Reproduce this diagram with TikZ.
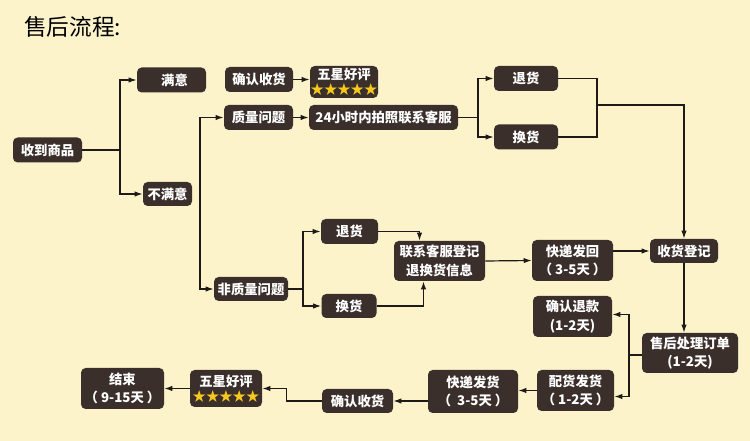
\documentclass[tikz,border=0pt]{standalone}
\usepackage{fontspec}
\newfontfamily\cjk{Noto Sans CJK SC}
\usetikzlibrary{calc,arrows.meta,positioning}
\definecolor{flowbg}{HTML}{FDF3CB}
\definecolor{flowbox}{HTML}{3B2F2C}
\definecolor{flowstar}{HTML}{F7C81E}
\definecolor{flowline}{HTML}{1E1A18}
\tikzset{
  fbox/.style={fill=flowbox, text=white, rounded corners=3.5pt, inner sep=0pt,
    align=center, font=\cjk\bfseries\fontsize{10}{14}\selectfont},
  sz/.style 2 args={minimum width=#1*0.75pt, minimum height=#2*0.75pt},
  fline/.style={draw=flowline, line width=0.9pt},
  farr/.style={fline, -{Latex[length=6pt,width=4pt]}}
}
\newcommand{\fivestars}{{\color{flowstar}★★★★★}}

\begin{document}
\begin{tikzpicture}[x=0.75pt, y=-0.75pt]
  \fill[flowbg] (0,0) rectangle (750,441);
  \useasboundingbox (0,0) rectangle (750,441);
  % title
  \node[anchor=west, inner sep=0pt, font=\cjk\fontsize{17}{20}\selectfont] (title) at (24,27) {售后流程:};
  % first column
  \node[fbox, sz={69}{25}] (rcv) at (47.5,150) {收到商品};
  \node[fbox, sz={69}{25}] (sat) at (171.5,80) {\ \ 满意};
  \node[fbox, sz={49}{24}] (unsat) at (167.5,194) {不满意};
  % quality branch
  \node[fbox, sz={68}{25}] (ok1) at (259,79.5) {确认收货};
  \node[fbox, sz={68}{32}] (star1) at (344,82) {五星好评\\[-3pt]\fivestars};
  \node[fbox, sz={69}{25}] (qual) at (258.5,117.5) {质量问题};
  \node[fbox, sz={149}{25}] (photo) at (383.5,117.5) {24小时内拍照联系客服};
  \node[fbox, sz={64}{25}] (ret1) at (526,78.5) {退货};
  \node[fbox, sz={64}{25}] (exc1) at (526,137) {换货};
  % non-quality branch
  \node[fbox, sz={74}{24}] (nonq) at (251,289) {非质量问题};
  \node[fbox, sz={57}{25}] (ret2) at (349.5,231.5) {退货};
  \node[fbox, sz={55}{24}] (exc2) at (349,306) {换货};
  \node[fbox, sz={91}{40}] (reg) at (439.5,261) {联系客服登记\\退换货信息};
  \node[fbox, sz={81}{41}] (back) at (572.5,260.5) {快递发回\\（ 3-5天 ）};
  \node[fbox, sz={68}{24}] (recv) at (684,251) {收货登记};
  \node[fbox, sz={96}{40}] (proc) at (690,353) {售后处理订单\\(1-2天)};
  \node[fbox, sz={79}{41}] (refund) at (572.5,316.5) {确认退款\\(1-2天)};
  % bottom row
  \node[fbox, sz={77}{41}] (pick) at (575.5,390.5) {配货发货\\（ 1-2天 ）};
  \node[fbox, sz={90}{43}] (ship) at (473,391.5) {快递发货\\（ \ 3-5天 ）};
  \node[fbox, sz={71}{24}] (ok2) at (357.5,401) {确认收货};
  \node[fbox, sz={72}{37}] (star2) at (226,388.5) {五星好评\\[-3pt]\fivestars};
  \node[fbox, sz={83}{41}] (fin) at (122.5,388.5) {结束\\（ 9-15天 ）};
  % branch points
  \coordinate (b0) at (120,150);
  \coordinate (b1) at (200,117.5);
  \coordinate (b2) at (478,117.5);
  \coordinate (m1) at (597,105);
  \coordinate (b3) at (303,289);
  \coordinate (b4) at (629,355);
  % connectors
  \draw[fline] (rcv.east) -- (b0);
  \draw[farr] (b0) |- (sat.west);
  \draw[farr] (b0) |- (unsat.west);
  \draw[farr] (ok1.east) -- (ok1.east -| star1.west);
  \draw[farr] (b1) -- (qual.west);
  \draw[farr] (b1) |- (nonq.west);
  \draw[farr] (qual.east) -- (photo.west);
  \draw[fline] (photo.east) -- (b2);
  \draw[farr] (b2) |- (ret1.west);
  \draw[farr] (b2) |- (exc1.west);
  \draw[fline] (ret1.east) -| (m1);
  \draw[fline] (exc1.east) -| (m1);
  \draw[farr] (m1) -| (recv.north);
  \draw[fline] (nonq.east) -- (b3);
  \draw[farr] (b3) |- (ret2.west);
  \draw[farr] (b3) |- (exc2.west);
  \draw[farr] (ret2.east) -| ($(reg.north)+(-20,0)$);
  \draw[farr] (exc2.east) -| ($(reg.south)+(-16,0)$);
  \draw[farr] (reg.east) -- (back.west);
  \draw[farr] (back.east |- recv.west) -- (recv.west);
  \draw[farr] (recv.south) -- (proc.north -| recv.south);
  \draw[fline] (proc.west |- b4) -- (b4);
  \draw[farr] (b4) |- ($(refund.east)+(0,-2)$);
  \draw[farr] (b4) |- ($(pick.east)+(0,6)$);
  \draw[farr] (pick.west) -- (pick.west -| ship.east);
  \draw[farr] (ok2.east -| ship.west) -- (ok2.east);
  \draw[farr] (ok2.west) -- ++(-35,0) |- (star2.east);
  \draw[farr] (star2.west) -- (fin.east);
\end{tikzpicture}
\end{document}
